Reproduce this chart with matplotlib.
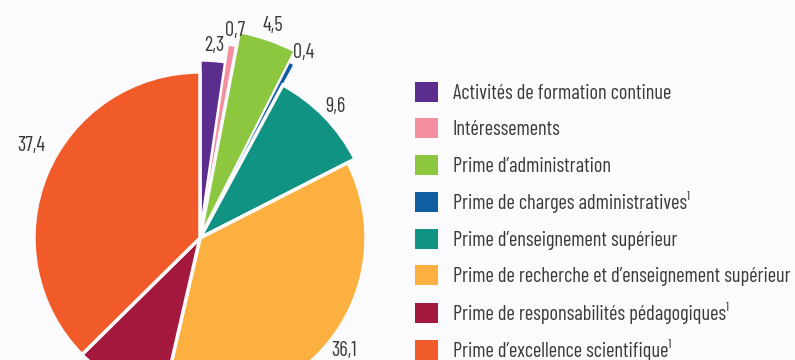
"""Pie chart of bonus categories, with legend on the right."""

import matplotlib.pyplot as plt
import numpy as np

categories = [
    "Activités de formation continue",
    "Intéressements",
    "Prime d\u2019administration",
    "Prime de charges administratives\u00b9",
    "Prime d\u2019enseignement supérieur",
    "Prime de recherche et d\u2019enseignement supérieur",
    "Prime de responsabilités pédagogiques\u00b9",
    "Prime d\u2019excellence scientifique\u00b9",
]
shares = [2.3, 0.7, 4.5, 0.4, 9.6, 36.1, 9.0, 37.4]

colors = ["#5b2d8e", "#f48fa0", "#8dc63f", "#0f5ea2", "#119383",
          "#fbb040", "#a3183c", "#f15a29"]
# outer radius of each slice, in pixels
radii = [178, 195, 210, 197, 174, 166, 166, 166]
# white border width per slice (thin slices get a finer one)
borders = [2.5, 1.2, 2.5, 0.8, 2.5, 2.5, 2.5, 2.5]
# value label placement: angular shift (deg) and gap beyond the rim (px)
label_shift = [0, 0, 0, -1.5, 0, 0, 0, -6]
label_pad = [15, 15, 15, 15, 15, 17, 15, 26]

BG = "#fbfbfd"
TEXT = "#3a3a3a"
FONT = ["Barlow Condensed", "Roboto Condensed", "DejaVu Sans"]
FS = 14.7
plt.rcParams["font.family"] = FONT

fig = plt.figure(figsize=(7.95, 3.6), dpi=100, facecolor=BG)
ax = fig.add_axes([0, 0, 1, 1])
ax.set_facecolor(BG)

cx, cy = 200, 122
wedges, _ = ax.pie(
    shares,
    colors=colors,
    startangle=90,
    counterclock=False,
    center=(cx, cy),
    radius=165,
    explode=[0.035] * len(shares),
    wedgeprops=dict(edgecolor=BG),
)
for w, r, lw in zip(wedges, radii, borders):
    w.set_radius(r)
    w.set_linewidth(lw)

# value labels just outside each slice
for w, v, s, pad in zip(wedges, shares, label_shift, label_pad):
    mid = np.deg2rad((w.theta1 + w.theta2) / 2 + s)
    d = w.r + pad
    x = w.center[0] + d * np.cos(mid)
    y = w.center[1] + d * np.sin(mid)
    ax.text(x, y, f"{v:.1f}".replace(".", ","), ha="center", va="center",
            fontsize=FS, color=TEXT)

ax.set_xlim(0, 795)
ax.set_ylim(0, 360)
ax.set_aspect("equal")
ax.axis("off")

leg = fig.legend(
    wedges, categories,
    loc="upper left",
    bbox_to_anchor=(415 / 795, 1 - 82 / 360),
    frameon=False,
    fontsize=FS,
    handlelength=1.13,
    handleheight=1.13,
    handletextpad=0.72,
    labelspacing=0.76,
    borderpad=0,
    borderaxespad=0,
)
for t in leg.get_texts():
    t.set_color(TEXT)
for h in leg.legend_handles:
    h.set_edgecolor("none")

fig.savefig("out.png", dpi=100, facecolor=BG)
